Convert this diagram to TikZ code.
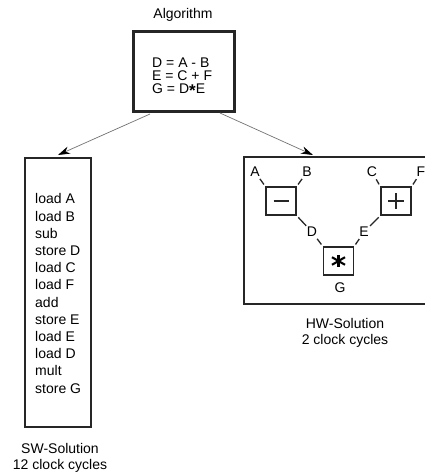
\documentclass[tikz,border=0pt]{standalone}
\usepackage{fontspec}
\setmainfont{Liberation Sans}
\usetikzlibrary{arrows.meta,calc}
\begin{document}
\begin{tikzpicture}[x=1pt,y=-1pt,
  txt/.style={font=\fontsize{14}{14}\selectfont, inner sep=0pt},
  ln/.style={font=\fontsize{14}{14}\selectfont, inner sep=0pt, anchor=base west},
  opbox/.style={draw=black!85, line width=1.8pt, minimum width=30pt, minimum height=28pt, inner sep=0pt},
  lbl/.style={font=\fontsize{14}{14}\selectfont, inner sep=1pt},
  tick/.style={draw=black!85, line width=1.3pt, shorten <=8.5pt, shorten >=2pt},
  arr/.style={draw=black!55, line width=0.7pt, -{Stealth[length=12pt,width=7.5pt,black]}},
  frame/.style={draw=black!85}
]
\clip (0,0) rectangle (425,475);
\fill[white] (0,0) rectangle (425,475);

% Algorithm
\node[txt] (algt) at (183,15) {Algorithm};
\node[frame, line width=2.3pt, minimum width=101pt, minimum height=80pt, inner sep=0pt] (alg) at (184,71.5) {};
\node[ln] (eq1) at (152,67) {D = A - B};
\node[ln] (eq2) at (152,80) {E = C + F};
\node[ln] (eq3) at (152,93) {G = D{\fontsize{17}{13}\selectfont\raisebox{-3.5pt}{\textbf{*}}}E};

% SW box
\node[frame, line width=2pt, minimum width=66pt, minimum height=269pt, inner sep=0pt] (sw) at (57.5,292) {};
\node[txt, align=left, anchor=base west, font=\fontsize{14}{17.2}\selectfont] (swx) at (35,393) {load A\\load B\\sub\\store D\\load C\\load F\\add\\store E\\load E\\load D\\mult\\store G};
\node[txt, align=center, font=\fontsize{14}{15.5}\selectfont] (swc) at (60,458) {SW-Solution\\12 clock cycles};

% HW box
\node[frame, line width=1.5pt, minimum width=200pt, minimum height=147pt, inner sep=0pt, anchor=north west] (hw) at (243,156) {};
\node[txt, align=center, font=\fontsize{14}{15.5}\selectfont] (hwc) at (345,333) {HW-Solution\\2 clock cycles};

% operator boxes
\node[opbox] (mn) at (281,201) {};
\node[opbox] (pl) at (396,201) {};
\node[opbox] (st) at (338.5,261) {};
\draw[line width=1.2pt, black!85] ($(mn.center)+(-7.5,0)$) -- ($(mn.center)+(7.5,0)$);
\draw[line width=1.2pt, black!85] ($(pl.center)+(-8,0)$) -- ($(pl.center)+(8,0)$);
\draw[line width=1.2pt, black!85] ($(pl.center)+(0,-8)$) -- ($(pl.center)+(0,8)$);
\draw[line width=2.1pt, black] ($(st.center)+(0,-6)$) -- ($(st.center)+(0,6)$);
\draw[line width=2.1pt, black] ($(st.center)+(-6.5,-3.8)$) -- ($(st.center)+(6.5,3.8)$);
\draw[line width=2.1pt, black] ($(st.center)+(-6.5,3.8)$) -- ($(st.center)+(6.5,-3.8)$);

% labels
\node[lbl] (A) at (255,172) {A};
\node[lbl] (B) at (307,172) {B};
\node[lbl] (C) at (372,172) {C};
\node[lbl] (F) at (421,172) {F};
\node[lbl] (D) at (312,232) {D};
\node[lbl] (E) at (364,232) {E};
\node[lbl] (G) at (340,288) {G};

% ticks
\draw[tick] (A.center) -- (mn.north west);
\draw[tick] (B.center) -- (mn.north east);
\draw[tick] (D.center) -- (mn.south east);
\draw[tick] (D.center) -- (st.north west);
\draw[tick] (E.center) -- (st.north east);
\draw[tick] (E.center) -- (pl.south west);
\draw[tick] (C.center) -- (pl.north west);
\draw[tick] (F.center) -- (pl.north east);

% arrows
\coordinate (a1s) at (150,114);
\coordinate (a1e) at (58,155);
\coordinate (a2s) at (220,113);
\coordinate (a2e) at (313,155);
\draw[arr] (a1s) -- (a1e);
\draw[arr] (a2s) -- (a2e);
\end{tikzpicture}
\end{document}
